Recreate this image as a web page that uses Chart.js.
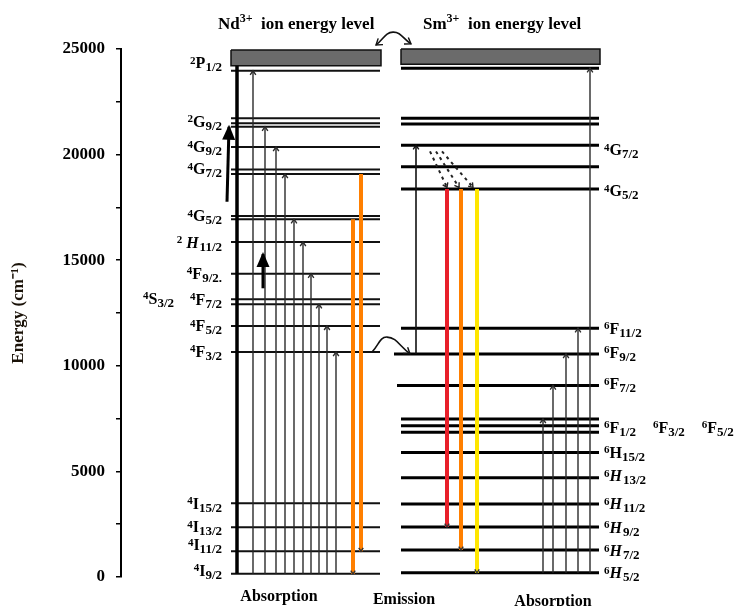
<!DOCTYPE html>
<html>
<head>
<meta charset="utf-8">
<title>Nd3+ / Sm3+ energy levels</title>
<script src="https://cdn.jsdelivr.net/npm/chart.js@4.4.0/dist/chart.umd.min.js"></script>
<style>
  body { margin: 0; background: #fff; }
  canvas { display: block; }
</style>
</head>
<body>
<canvas id="myChart" width="739" height="606"></canvas>
<script>
// ---- energies (cm-1) ----
var ndLevels = [150, 1220, 2350, 3490, 10650, 11890, 12910, 13150, 14360, 15860, 16940, 17090, 19080, 19300, 20360, 21320, 21480, 21720, 23970];
var ndBand = [24210, 24950];
var ndTerms = ['4I9/2', '4I11/2', '4I13/2', '4I15/2', '4F3/2', '4F5/2', '4F7/2', '4F9/2.', '2 *H11/2', '4G5/2', '4G7/2', '4G9/2', '2G9/2', '2P1/2'];
var ndTermY = [330, 1530, 2380, 3490, 10690, 11890, 13150, 14390, 15850, 17110, 19320, 20380, 21580, 24340];
var ndSideTerm = '4S3/2';
var ndSideTermY = 13200;

var smLevels = [200, 1280, 2370, 3460, 4700, 5900, 6850, 7160, 7480, 9070, 10560, 11780, 18370, 19430, 20440, 21450, 21720, 24090];
var smBand = [24280, 25000];
var smTerms = ['6*H5/2', '6*H7/2', '6*H9/2', '6*H11/2', '6*H13/2', '6H15/2', '6F1/2', '6F7/2', '6F9/2', '6F11/2', '4G5/2', '4G7/2'];
var smTermY = [200, 1250, 2350, 3460, 4800, 5900, 7090, 9140, 10640, 11780, 18290, 20220];
var smRowTerms = ['6F3/2', '6F5/2']; // printed on the 6F1/2 row

// transitions
var ndGround = 150;
var ndAbsorbTo = [23970, 21320, 20360, 19080, 16940, 15860, 14360, 12910, 11890, 10650];
var ndEmitFrom = [16940, 19080];
var ndEmitTo = [150, 1220];
var ndPumpFrom = [17770, 13670];
var ndPumpTo = [21320, 15290];

var smGround = 200;
var smAbsorbTo = [7480, 9070, 10560, 11780, 24090];
var smEmitFrom = 18370;
var smEmitTo = [2370, 1280, 200];
var smTransfer = [10560, 20440];
var smRelax = [20150, 18450];

// ---- layout: horizontal placement in diagram units (= canvas px) ----
var ndX = [231, 380];
var smX = [401, 599];
var smWide = {10560: 394, 9070: 397};
var ndThickX = 237;
var ndAbsorbX = [253, 265, 276, 285, 294, 303, 311, 319, 327, 336];
var ndEmitX = [353, 361];
var ndPumpX = [[227, 229], [263, 263]];
var smAbsorbX = [543, 553, 566, 578, 590];
var smEmitX = [447, 461, 477];
var smEmitColors = ['#e8202a', '#ff7f00', '#ffe600'];
var smTransferX = 416;
var smRelaxX = [[430, 447], [436, 459], [442, 473]];

var FAM = '"Liberation Serif", "Times New Roman", serif';

var datasets = [];
function seg(x0, e0, x1, e1, style) {
  var ds = {
    data: [{x: x0, y: e0}, {x: x1, y: e1}],
    borderColor: '#111', borderWidth: 2, pointRadius: 0, pointHoverRadius: 0,
    fill: false, clip: false, order: 3
  };
  for (var k in style) ds[k] = style[k];
  datasets.push(ds);
}

// bands
function band(x, b) {
  datasets.push({
    data: [{x: x[0], y: b[1]}, {x: x[1] + 1, y: b[1]}, {x: x[1] + 1, y: b[0]}, {x: x[0], y: b[0]}, {x: x[0], y: b[1]}],
    borderColor: '#111', borderWidth: 1.5, backgroundColor: '#6b6b6b', fill: 'shape',
    pointRadius: 0, clip: false, order: 4
  });
}
band(ndX, ndBand);
band(smX, smBand);

// level lines
ndLevels.forEach(function(e) { seg(ndX[0], e, ndX[1], e, {borderWidth: 2}); });
smLevels.forEach(function(e) { seg(smWide[e] || smX[0], e, smX[1], e, {borderWidth: 3, borderColor: '#000'}); });

// Nd absorption
seg(ndThickX, ndGround, ndThickX, ndBand[0], {borderWidth: 3.5, borderColor: '#000', order: 2});
ndAbsorbTo.forEach(function(e, i) {
  seg(ndAbsorbX[i], ndGround, ndAbsorbX[i], e, {borderWidth: 1.4, borderColor: '#2a2a2a', order: 2, head: 'end', headSize: 5});
});
ndPumpFrom.forEach(function(e, i) {
  seg(ndPumpX[i][0], e, ndPumpX[i][1], ndPumpTo[i], {borderWidth: 3, borderColor: '#000', order: 1, head: 'end', headStyle: 'filled', headSize: 13});
});
ndEmitFrom.forEach(function(e, i) {
  seg(ndEmitX[i], e, ndEmitX[i], ndEmitTo[i], {borderWidth: 4, borderColor: '#ff7f00', order: 1, head: 'end', headSize: 4, headColor: '#333'});
});

// Sm
smAbsorbTo.forEach(function(e, i) {
  seg(smAbsorbX[i], smGround, smAbsorbX[i], e, {borderWidth: 1.4, borderColor: '#2a2a2a', order: 2, head: 'end', headSize: 5});
});
seg(smTransferX, smTransfer[0], smTransferX, smTransfer[1], {borderWidth: 1.6, borderColor: '#111', order: 2, head: 'end', headSize: 5});
smEmitTo.forEach(function(e, i) {
  seg(smEmitX[i], smEmitFrom, smEmitX[i], e, {borderWidth: 4, borderColor: smEmitColors[i], order: 1, head: 'end', headSize: 4, headColor: '#333'});
});
smRelaxX.forEach(function(x) {
  seg(x[0], smRelax[0], x[1], smRelax[1], {borderWidth: 2, borderColor: '#222', borderDash: [3, 4], order: 1, head: 'end', headSize: 5});
});

// energy transfer arcs
function arc(pts, head) {
  datasets.push({
    data: pts.map(function(p) { return {x: p[0], y: p[1]}; }),
    borderColor: '#111', borderWidth: 1.6, pointRadius: 0, tension: 0.45, capBezierPoints: false,
    fill: false, clip: false, order: 1, head: head, headSize: 7
  });
}
arc([[376, 25190], [393, 25800], [411, 25240]], 'both');
arc([[372, 10650], [387, 11360], [410, 10570]], 'end');

// arrow heads drawn on top of the line ends
var arrowHeads = {
  id: 'arrowHeads',
  afterDatasetsDraw: function(chart) {
    var ctx = chart.ctx;
    chart.data.datasets.forEach(function(ds, i) {
      if (!ds.head) return;
      var pts = chart.getDatasetMeta(i).data;
      var n = pts.length;
      var ends = [];
      var p = pts[n - 1];
      var q = (p.cp1x !== undefined && (p.cp1x !== p.x || p.cp1y !== p.y)) ? {x: p.cp1x, y: p.cp1y} : pts[n - 2];
      ends.push([p, q]);
      if (ds.head === 'both') {
        var s = pts[0];
        var r = (s.cp2x !== undefined && (s.cp2x !== s.x || s.cp2y !== s.y)) ? {x: s.cp2x, y: s.cp2y} : pts[1];
        ends.push([s, r]);
      }
      ends.forEach(function(e) {
        var tip = e[0], from = e[1];
        var a = Math.atan2(tip.y - from.y, tip.x - from.x);
        var L = ds.headSize || 5;
        var color = ds.headColor || ds.borderColor;
        ctx.save();
        if (ds.headStyle === 'filled') {
          var w = L * 0.5;
          ctx.fillStyle = color;
          ctx.beginPath();
          ctx.moveTo(tip.x + Math.cos(a) * 2, tip.y + Math.sin(a) * 2);
          ctx.lineTo(tip.x - L * Math.cos(a) - w * Math.sin(a), tip.y - L * Math.sin(a) + w * Math.cos(a));
          ctx.lineTo(tip.x - L * Math.cos(a) + w * Math.sin(a), tip.y - L * Math.sin(a) - w * Math.cos(a));
          ctx.closePath();
          ctx.fill();
        } else {
          var phi = 0.6;
          ctx.strokeStyle = color;
          ctx.lineWidth = 1.4;
          ctx.beginPath();
          ctx.moveTo(tip.x - L * Math.cos(a - phi), tip.y - L * Math.sin(a - phi));
          ctx.lineTo(tip.x, tip.y);
          ctx.lineTo(tip.x - L * Math.cos(a + phi), tip.y - L * Math.sin(a + phi));
          ctx.stroke();
        }
        ctx.restore();
      });
    });
  }
};

// term symbols like 4F3/2 : superscript, letter, subscript
function drawTerm(ctx, s, x, y, align) {
  var m = s.match(/^(\d)( ?)(\*?)([A-Z])(.*)$/);
  var sup = m[1], gap = m[2], italic = m[3] === '*', letter = m[4], sub = m[5];
  var fSup = 'bold 11px ' + FAM, fMain = (italic ? 'italic ' : '') + 'bold 16px ' + FAM, fSub = 'bold 13px ' + FAM;
  ctx.font = fSup; var w1 = ctx.measureText(sup).width;
  ctx.font = 'bold 16px ' + FAM; var wg = gap ? ctx.measureText(' ').width : 0;
  ctx.font = fMain; var w2 = ctx.measureText(letter).width + (italic ? 1 : 0);
  ctx.font = fSub; var w3 = ctx.measureText(sub).width;
  var total = w1 + wg + w2 + w3;
  var x0 = align === 'right' ? x - total : x;
  var base = y + 5.5;
  ctx.textAlign = 'left';
  ctx.textBaseline = 'alphabetic';
  ctx.font = fSup; ctx.fillText(sup, x0, base - 4.5);
  ctx.font = fMain; ctx.fillText(letter, x0 + w1 + wg, base);
  ctx.font = fSub; ctx.fillText(sub, x0 + w1 + wg + w2, base + 3);
  return total;
}

function drawIonTitle(ctx, ion, x, base) {
  ctx.textAlign = 'left';
  ctx.textBaseline = 'alphabetic';
  ctx.font = 'bold 17px ' + FAM;
  ctx.fillText(ion, x, base);
  var w = ctx.measureText(ion).width;
  ctx.font = 'bold 12px ' + FAM;
  ctx.fillText('3+', x + w, base - 7);
  w += ctx.measureText('3+').width;
  ctx.font = 'bold 17px ' + FAM;
  ctx.fillText('  ion energy level', x + w, base);
}

var levelText = {
  id: 'levelText',
  afterDraw: function(chart) {
    var ctx = chart.ctx, xs = chart.scales.x, ys = chart.scales.y;
    ctx.save();
    ctx.fillStyle = '#000';
    ndTerms.forEach(function(t, i) {
      drawTerm(ctx, t, xs.getPixelForValue(222), ys.getPixelForValue(ndTermY[i]), 'right');
    });
    drawTerm(ctx, ndSideTerm, xs.getPixelForValue(143), ys.getPixelForValue(ndSideTermY), 'left');
    smTerms.forEach(function(t, i) {
      var x = xs.getPixelForValue(604), y = ys.getPixelForValue(smTermY[i]);
      var w = drawTerm(ctx, t, x, y, 'left');
      if (t === '6F1/2') {
        smRowTerms.forEach(function(r) {
          x += w + 17;
          w = drawTerm(ctx, r, x, y, 'left');
        });
      }
    });
    drawIonTitle(ctx, 'Nd', xs.getPixelForValue(218), 29);
    drawIonTitle(ctx, 'Sm', xs.getPixelForValue(423), 29);
    ctx.font = 'bold 16px ' + FAM;
    ctx.textAlign = 'center';
    ctx.fillText('Absorption', xs.getPixelForValue(279), 601);
    ctx.fillText('Emission', xs.getPixelForValue(404), 604);
    ctx.fillText('Absorption', xs.getPixelForValue(553), 606);
    ctx.restore();
  }
};

var ctx = document.getElementById('myChart');
var chart = new Chart(ctx, {
  type: 'line',
  data: { datasets: datasets },
  options: {
    responsive: false,
    animation: false,
    events: [],
    layout: { padding: { top: 49, bottom: 29, left: 0, right: 0 } },
    plugins: { legend: { display: false }, tooltip: { enabled: false } },
    scales: {
      x: { type: 'linear', display: false, min: 121, max: 739 },
      y: {
        type: 'linear', min: 0, max: 25000,
        afterFit: function(scale) { scale.width = 121; },
        ticks: {
          stepSize: 2500, autoSkip: false, padding: 11, color: '#000',
          font: { family: FAM, size: 17, weight: 'bold' },
          callback: function(v) { return v % 5000 === 0 ? String(v) : ''; }
        },
        grid: { drawOnChartArea: false, drawTicks: true, tickLength: 5, color: '#000', lineWidth: 1.5 },
        border: { display: true, color: '#000', width: 2 },
        title: {
          display: true, text: 'Energy (cm⁻¹)', color: '#1a1208',
          font: { family: FAM, size: 17, weight: 'bold' },
          padding: { top: 8, bottom: 0 }
        }
      }
    }
  },
  plugins: [arrowHeads, levelText]
});
</script>
</body>
</html>
